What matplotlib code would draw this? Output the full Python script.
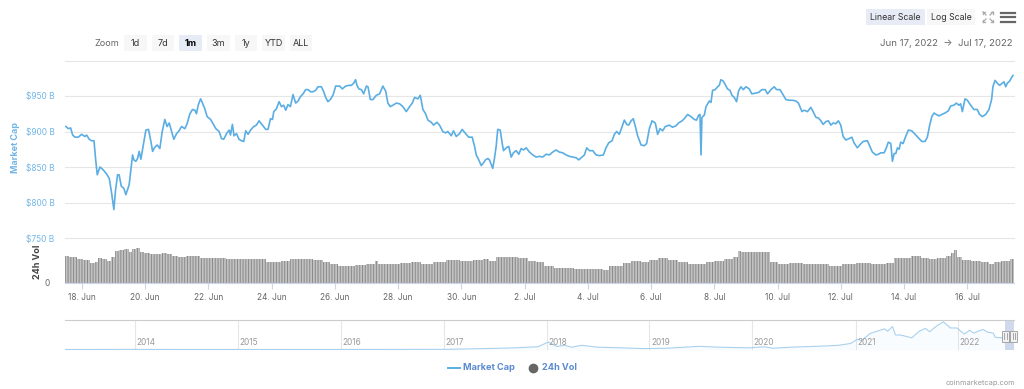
import numpy as np
import pandas as pd
import matplotlib
matplotlib.use("Agg")
import matplotlib.pyplot as plt
from matplotlib.patches import Rectangle
from matplotlib.lines import Line2D

plt.rcParams['font.family'] = ['Inter', 'DejaVu Sans']
plt.rcParams['hatch.linewidth'] = 0.7

# ---------------- data ----------------
start = pd.Timestamp("2022-06-17 00:00")

# hours since Jun 17 2022 00:00
price_hours = [11.8, 13.6, 15.4, 16.9, 18.7, 21.2, 23.7, 26.2, 27.5, 29.5, 31.3, 33.1, 34.4, 35.6, 37.6, 40.1, 42.7, 44.7, 46.5, 48.2,
    49.5, 51.0, 52.2, 53.8, 55.8, 57.3, 59.8, 62.4, 63.4, 64.9, 66.2, 67.4, 68.7, 70.4, 72.5, 74.5, 76.1, 77.6, 79.3, 81.1,
    83.1, 84.9, 86.9, 88.6, 90.2, 92.0, 93.7, 95.8, 97.7, 99.6, 102.1, 103.8, 105.9, 107.9, 109.7, 110.9, 112.2, 114.0, 115.5, 117.2,
    119.0, 121.6, 123.5, 125.6, 128.1, 129.9, 131.6, 133.7, 135.7, 136.7, 138.2, 139.4, 141.3, 143.2, 145.1, 146.8, 148.3, 150.1, 151.9, 154.4,
    156.4, 158.4, 161.0, 163.5, 165.2, 167.1, 168.6, 169.6, 171.6, 173.6, 175.4, 177.1, 178.7, 180.4, 182.2, 184.2, 186.2, 188.0, 189.8, 191.8,
    193.8, 195.6, 197.4, 199.4, 201.4, 203.1, 205.7, 207.5, 209.0, 210.7, 212.5, 214.5, 216.6, 219.6, 221.6, 224.2, 226.7, 228.5, 230.2, 231.7,
    232.7, 234.2, 236.1, 237.8, 239.9, 241.1, 242.9, 244.9, 247.4, 249.9, 252.4, 254.5, 256.2, 258.0, 260.0, 262.6,
    265.1, 267.6, 270.2, 272.7, 274.7, 276.5, 279.0, 280.8, 282.8, 284.8, 286.6, 289.1, 290.9, 293.4, 295.4, 297.9, 300.0, 301.7, 304.3, 306.0,
    308.1, 310.6, 312.6, 315.2, 317.6, 320.2, 322.0, 323.3, 325.2, 327.1, 328.8, 330.3, 332.1, 333.3, 335.8, 337.1, 338.4, 339.6, 341.5, 343.0,
    344.0, 346.0, 348.0, 349.8, 351.5, 353.6, 355.6, 357.4, 359.1, 361.2, 363.7, 366.2, 368.8, 371.3, 373.8, 376.3, 378.8, 381.3, 383.9, 386.4,
    388.9, 391.5, 394.0, 396.5, 399.1, 401.1, 403.6, 405.4, 407.1, 409.2, 411.7, 414.3, 416.8, 419.8, 421.8, 423.8, 426.4, 428.1, 429.9, 431.9,
    434.0, 435.7, 437.5, 439.0, 440.8, 442.5, 444.1, 445.8, 448.4, 450.9, 452.6, 454.7, 456.7, 459.2, 461.0, 462.8, 464.8, 466.8,
    469.8, 472.3, 474.9, 476.9, 479.5, 481.2, 483.7, 486.3, 488.8, 490.5, 492.1, 493.1, 493.9, 494.6, 496.4, 497.7, 500.2, 501.5, 502.7, 504.7,
    506.5, 507.8, 509.0, 510.8, 512.3, 514.0, 515.9, 517.4, 519.1, 520.9, 522.4, 524.2, 526.0, 528.0, 530.5, 532.5, 535.1, 537.6, 540.1, 542.6,
    544.4, 547.0, 549.5, 551.2, 553.8, 555.8, 558.3, 560.8, 563.3, 565.9, 567.9, 570.5, 572.2, 574.7, 577.3, 579.0, 581.1, 583.1, 584.9, 586.6,
    588.7, 590.6, 592.5, 594.2, 596.2, 598.2, 600.0, 601.8, 603.8, 606.3, 608.4, 610.1, 612.6, 614.4, 617.0, 620.2, 622.1, 624.0, 626.6, 628.6,
    630.4, 632.9, 634.6, 636.1, 638.0, 639.2, 640.5, 641.8, 643.0, 644.3, 645.5, 647.3, 649.3, 651.3, 653.9, 656.4, 658.9, 661.5, 664.0, 665.7,
    667.5, 669.1, 670.8, 672.5, 674.6, 676.6, 679.1, 681.6, 683.5, 685.9, 687.7, 689.7, 691.0, 692.3, 694.3, 696.1, 698.6, 701.1, 703.6, 705.4,
    707.4, 710.0, 712.5, 714.5, 715.5, 717.1, 718.8, 720.6, 722.6, 723.9, 725.2, 726.4, 728.2, 729.7, 730.7]

# total market cap, billions USD
market_cap = [907, 904, 905, 895, 892, 892, 896, 893, 895, 889, 887, 887, 860, 839, 850, 846, 840, 834, 813, 790,
    818, 839, 839, 823, 820, 811, 825, 867, 860, 858, 862, 872, 861, 879, 902, 903, 888, 872, 878, 881,
    876, 900, 917, 907, 912, 900, 889, 897, 901, 907, 904, 911, 925, 931, 930, 925, 937, 946, 940, 932,
    921, 917, 911, 904, 900, 890, 889, 897, 902, 895, 910, 894, 897, 889, 887, 886, 901, 896, 902, 907,
    909, 915, 909, 903, 903, 918, 917, 928, 932, 942, 935, 937, 930, 938, 935, 952, 940, 943, 949, 953,
    959, 959, 956, 956, 958, 963, 963, 956, 948, 942, 945, 951, 964, 964, 960, 964, 965, 965, 968, 973,
    965, 960, 959, 953, 964, 963, 945, 945, 951, 953, 964, 957, 940, 935, 937, 940,
    939, 935, 928, 935, 940, 948, 946, 951, 931, 925, 916, 913, 909, 913, 909, 900, 898, 900, 894, 901,
    893, 897, 903, 897, 892, 892, 879, 867, 860, 852, 856, 860, 862, 860, 848, 862, 879, 903, 902, 883,
    873, 877, 879, 864, 870, 873, 868, 876, 874, 877, 871, 867, 864, 865, 864, 868, 867, 871, 874, 871,
    870, 867, 865, 864, 863, 860, 864, 867, 877, 873, 873, 867, 866, 867, 877, 884, 887, 896, 900, 896,
    907, 916, 910, 909, 915, 918, 907, 894, 881, 880, 883, 904, 915, 912, 896, 904, 901, 907,
    909, 906, 908, 912, 915, 918, 924, 921, 917, 916, 923, 924, 867, 920, 923, 935, 943, 941, 958, 959,
    963, 965, 973, 971, 966, 960, 958, 951, 948, 942, 957, 963, 959, 963, 960, 953, 954, 955, 959, 959,
    953, 959, 963, 959, 959, 953, 945, 944, 944, 943, 940, 928, 930, 928, 934, 928, 920, 919, 915, 910,
    914, 915, 909, 912, 911, 915, 909, 893, 888, 890, 892, 884, 877, 881, 886, 887, 879, 871, 867, 868,
    870, 870, 877, 885, 883, 858, 869, 869, 877, 875, 885, 883, 893, 902, 901, 896, 891, 886, 886, 892,
    909, 921, 926, 924, 922, 924, 926, 929, 936, 937, 940, 937, 939, 928, 946, 944, 937, 931, 931, 924,
    921, 924, 931, 945, 963, 972, 968, 965, 968, 970, 963, 968, 971, 976, 979]

vol_hours = [11.1, 17.4, 22.4, 27.5, 32.5, 35.1, 37.6, 41.4, 44.7, 47.7, 50.3, 54.1, 57.9, 60.9, 63.4, 66.7, 69.2, 73.0, 78.0, 83.1,
    86.9, 90.7, 94.5, 99.6, 105.9, 110.9, 115.9, 121.0, 128.6, 138.7, 148.9, 158.9, 162.7, 165.2, 171.6, 179.2, 184.2, 194.4, 204.4, 209.5,
    214.5, 222.1, 227.2, 234.8, 244.9, 247.4, 249.9, 260.0, 270.2, 277.8, 285.3, 295.4, 305.5, 315.7, 325.8, 330.8, 335.8, 340.9, 351.0, 358.6,
    366.2, 371.3, 378.8, 386.4, 394.0, 401.6, 409.2, 416.8, 421.8, 425.6, 431.9, 437.0, 444.6, 452.2, 457.2, 464.8, 472.3, 479.9, 487.5, 495.1,
    500.2, 507.8, 515.4, 520.4, 523.5, 525.5, 535.6, 544.4, 548.2, 555.8, 565.9, 576.0, 586.1, 596.2, 606.3, 616.4, 629.1, 639.2, 641.8, 649.3,
    656.9, 664.5, 669.5, 677.1, 682.2, 684.7, 686.7, 689.8, 694.8, 702.4, 710.0, 715.0, 717.6, 725.2, 731.5]

# 24h volume, billions USD
vol_values = [82, 79, 72, 69, 59, 64, 74, 72, 66, 79, 96, 99, 102, 94, 102, 104, 94, 89, 86, 86,
    89, 86, 82, 77, 81, 81, 76, 76, 74, 72, 71, 71, 71, 62, 64, 67, 72, 71, 69, 62,
    56, 52, 50, 54, 56, 66, 57, 58, 60, 62, 58, 62, 69, 67, 68, 72, 66, 78, 79, 76,
    66, 62, 52, 46, 44, 42, 41, 42, 39, 51, 52, 59, 66, 64, 70, 74, 68, 62, 56, 56,
    62, 66, 72, 79, 96, 92, 92, 92, 62, 56, 59, 56, 57, 52, 56, 60, 58, 59, 74, 76,
    80, 76, 72, 76, 82, 89, 99, 79, 69, 66, 62, 56, 64, 66, 72]

price_ticks = [750, 800, 850, 900, 950, 1000]
price_tick_labels = ["$750 B", "$800 B", "$850 B", "$900 B", "$950 B", ""]

tick_dates = ["2022-06-18", "2022-06-20", "2022-06-22", "2022-06-24", "2022-06-26", "2022-06-28", "2022-06-30",
              "2022-07-02", "2022-07-04", "2022-07-06", "2022-07-08", "2022-07-10", "2022-07-12", "2022-07-14", "2022-07-16"]
tick_labels = ["18. Jun", "20. Jun", "22. Jun", "24. Jun", "26. Jun", "28. Jun", "30. Jun",
               "2. Jul", "4. Jul", "6. Jul", "8. Jul", "10. Jul", "12. Jul", "14. Jul", "16. Jul"]

# navigator: full history of total market cap (billions)
nav_dates = ["2013-04-28", "2013-11-30", "2014-06-01", "2015-01-15", "2015-06-01", "2016-01-01", "2016-06-15",
             "2017-01-01", "2017-06-10", "2017-09-01", "2017-12-01", "2018-01-07", "2018-02-06", "2018-03-05",
             "2018-04-01", "2018-05-05", "2018-07-01", "2018-09-01", "2018-11-25", "2018-12-15", "2019-03-01",
             "2019-06-26", "2019-09-01", "2019-12-17", "2020-02-14", "2020-03-13", "2020-06-01", "2020-09-01",
             "2020-11-01", "2020-12-15", "2021-01-08", "2021-01-22", "2021-02-21", "2021-03-13", "2021-04-14",
             "2021-04-25", "2021-05-12", "2021-05-23", "2021-06-10", "2021-07-20", "2021-08-15", "2021-09-06",
             "2021-09-21", "2021-10-05", "2021-10-20", "2021-11-09", "2021-12-04", "2021-12-27", "2022-01-22",
             "2022-02-10", "2022-02-24", "2022-03-29", "2022-04-15", "2022-05-05", "2022-05-12", "2022-06-05",
             "2022-06-18", "2022-07-17"]
nav_values = [1.6, 15, 8, 3.5, 4, 7, 12, 18, 110, 170, 300, 790, 320, 450, 250, 450, 250, 200, 115, 105, 130,
              340, 250, 180, 290, 140, 270, 360, 450, 650, 1100, 950, 1700, 1900, 2200, 1950, 2450, 1550, 1550,
              1250, 1950, 2250, 1900, 2250, 2600, 2950, 2300, 2300, 1650, 2050, 1750, 2150, 1850, 1750, 1300,
              1250, 840, 970]
nav_years = ["2014", "2015", "2016", "2017", "2018", "2019", "2020", "2021", "2022"]
range_start, range_end = "2022-06-17", "2022-07-17"

zoom_buttons = ["1d", "7d", "1m", "3m", "1y", "YTD", "ALL"]
selected_button = "1m"

# ---------------- styling ----------------
LINE = "#5aaee3"
LABEL_BLUE = "#72b5e6"
GRID = "#e6e6e6"
TXT = "#666666"

W, H = 1024, 389
fig = plt.figure(figsize=(W / 100, H / 100), dpi=100)
fig.patch.set_facecolor("white")


def fx(x):
    return x / W


def fy(y):
    return 1 - y / H


def axes_px(x0, y0, x1, y1):
    return fig.add_axes([fx(x0), fy(y1), fx(x1) - fx(x0), fy(y0) - fy(y1)])


xmin = min(price_hours[0], vol_hours[0])
xmax = max(price_hours[-1], vol_hours[-1])

# ---- price pane ----
ax = axes_px(65, 60.5, 1014, 238)
ax.set_xlim(xmin, xmax)
ax.set_ylim(price_ticks[0], price_ticks[-1])
for v in price_ticks:
    ax.axhline(v, color=GRID, lw=0.8, clip_on=False, zorder=0)
ax.plot(price_hours, market_cap, color=LINE, lw=1.2, solid_joinstyle="round", zorder=3)
ax.set_yticks(price_ticks)
ax.set_yticklabels(price_tick_labels)
ax.tick_params(axis="y", length=0, pad=7.5, labelsize=6, labelcolor=LABEL_BLUE)
ax.set_xticks([])
for s in ax.spines.values():
    s.set_visible(False)
ax.patch.set_alpha(0)

# ---- volume pane ----
axv = axes_px(65, 245, 1014, 283)
vh = np.array(vol_hours)
mids = (vh[:-1] + vh[1:]) / 2
edges = np.concatenate([[xmin], mids, [xmax]])
axv.bar(edges[:-1], vol_values, width=np.diff(edges), align="edge",
        color="#c2c2c2", edgecolor="#8a8a8a", linewidth=0, hatch="||||||")
axv.set_xlim(xmin, xmax)
axv.set_ylim(0, 114)
axv.set_yticks([0])
axv.set_yticklabels(["0"])
axv.tick_params(axis="y", length=0, pad=11, labelsize=6, labelcolor=TXT)
tick_hours = [(pd.Timestamp(d) - start) / pd.Timedelta(hours=1) for d in tick_dates]
axv.set_xticks(tick_hours)
axv.set_xticklabels(tick_labels)
axv.tick_params(axis="x", length=4, width=0.8, color="#ccd6eb", pad=3.5, labelsize=6, labelcolor=TXT)
for k, s in axv.spines.items():
    s.set_visible(k == "bottom")
axv.spines["bottom"].set_color("#ccd6eb")
axv.spines["bottom"].set_linewidth(0.8)
axv.patch.set_alpha(0)

# axis titles
fig.text(fx(15), fy(147), "Market Cap", rotation=90, ha="center", va="center",
         fontsize=6.5, fontweight="bold", color=LABEL_BLUE)
fig.text(fx(37), fy(262), "24h Vol", rotation=90, ha="center", va="center",
         fontsize=6.5, fontweight="bold", color="#444444")

# ---- navigator ----
axn = axes_px(65, 320, 1014, 350)
nd = pd.to_datetime(nav_dates)
axn.plot(nd, nav_values, color="#a9d1ee", lw=0.8)
axn.fill_between(nd, nav_values, -50, color="#a9d1ee", alpha=0.06, lw=0)
axn.set_xlim(nd[0], pd.Timestamp("2022-07-17 10:00"))
axn.set_ylim(-50, 3150)
for yr in nav_years:
    d = pd.Timestamp(yr + "-01-01")
    axn.axvline(d, color=GRID, lw=0.8, zorder=0)
    axn.text(d + pd.Timedelta(days=5), 0.24, yr, transform=axn.get_xaxis_transform(),
             fontsize=6, color="#999999", ha="left", va="center")
axn.plot([0, 1], [1, 1], transform=axn.transAxes, color="#cccccc", lw=0.8, clip_on=False)
rs, re_ = pd.Timestamp(range_start), pd.Timestamp(range_end)
axn.axvspan(rs, re_, color="#6685c2", alpha=0.3, lw=0)
axn.set_xticks([])
axn.set_yticks([])
for s in axn.spines.values():
    s.set_visible(False)
axn.patch.set_alpha(0)

# navigator handles
inv = fig.transFigure.inverted()
for d in (rs, re_):
    px_x = axn.transData.transform((matplotlib.dates.date2num(d), 0))[0]
    fxx = inv.transform((px_x, 0))[0]
    hw, hh = fx(7), 11 / H
    fig.patches.append(Rectangle((fxx - hw / 2, fy(336) - hh / 2), hw, hh, transform=fig.transFigure,
                                 facecolor="#f2f2f2", edgecolor="#999999", lw=0.6, zorder=5))
    for dx in (-1.2, 1.2):
        fig.lines.append(Line2D([fxx + fx(dx), fxx + fx(dx)], [fy(333), fy(339)], transform=fig.transFigure,
                                color="#999999", lw=0.6, zorder=6))

# ---- range selector buttons ----
fig.text(fx(107), fy(43), "Zoom", ha="center", va="center", fontsize=6.5, color=TXT)
for i, lab in enumerate(zoom_buttons):
    cx = 135.5 + i * 27.6
    sel = lab == selected_button
    fig.patches.append(Rectangle((fx(cx - 11.3), fy(50.5)), fx(22.6), 15.5 / H, transform=fig.transFigure,
                                 facecolor="#e6ebf5" if sel else "#f7f7f7", edgecolor="none", zorder=1))
    fig.text(fx(cx), fy(43), lab, ha="center", va="center", fontsize=6.5,
             fontweight="bold" if sel else "normal", color="#000000" if sel else "#333333")

# scale buttons
for lab, x0, x1, sel in (("Linear Scale", 866, 925, True), ("Log Scale", 927, 975, False)):
    fig.patches.append(Rectangle((fx(x0), fy(25)), fx(x1 - x0), 16 / H, transform=fig.transFigure,
                                 facecolor="#e6ebf5" if sel else "#f7f7f7", edgecolor="none", zorder=1))
    fig.text(fx((x0 + x1) / 2), fy(17), lab, ha="center", va="center", fontsize=6.3, color="#333333")

# fullscreen icon
cx, cy = 988, 17
for sx, sy in ((-1, -1), (1, -1), (-1, 1), (1, 1)):
    fig.lines.append(Line2D([fx(cx + sx * 2), fx(cx + sx * 5)], [fy(cy + sy * 2), fy(cy + sy * 5)],
                            transform=fig.transFigure, color="#aaaaaa", lw=0.9))
    fig.lines.append(Line2D([fx(cx + sx * 5), fx(cx + sx * 5)], [fy(cy + sy * 3), fy(cy + sy * 5)],
                            transform=fig.transFigure, color="#aaaaaa", lw=0.9))
    fig.lines.append(Line2D([fx(cx + sx * 3), fx(cx + sx * 5)], [fy(cy + sy * 5), fy(cy + sy * 5)],
                            transform=fig.transFigure, color="#aaaaaa", lw=0.9))
# hamburger
for yy in (12.5, 17, 21.5):
    fig.lines.append(Line2D([fx(1001), fx(1015)], [fy(yy), fy(yy)], transform=fig.transFigure,
                            color="#666666", lw=1.6))

# date range
fig.text(fx(1013), fy(43), "Jun 17, 2022  \u2192  Jul 17, 2022", ha="right", va="center",
         fontsize=6.9, color=TXT)

# ---- legend ----
fig.lines.append(Line2D([fx(448), fx(460)], [fy(368), fy(368)], transform=fig.transFigure, color=LINE, lw=1.4))
fig.text(fx(463), fy(368), "Market Cap", ha="left", va="center", fontsize=6.6, fontweight="bold", color="#5b8bd0")
fig.lines.append(Line2D([fx(533)], [fy(368)], transform=fig.transFigure, marker="o", markersize=6,
                        color="#666666", lw=0))
fig.text(fx(542), fy(368), "24h Vol", ha="left", va="center", fontsize=6.6, fontweight="bold", color="#5b8bd0")

# footer
fig.text(fx(1015), fy(383), "coinmarketcap.com", ha="right", va="center", fontsize=5.3, color="#999999")

fig.savefig("out.png", dpi=100, facecolor="white")
